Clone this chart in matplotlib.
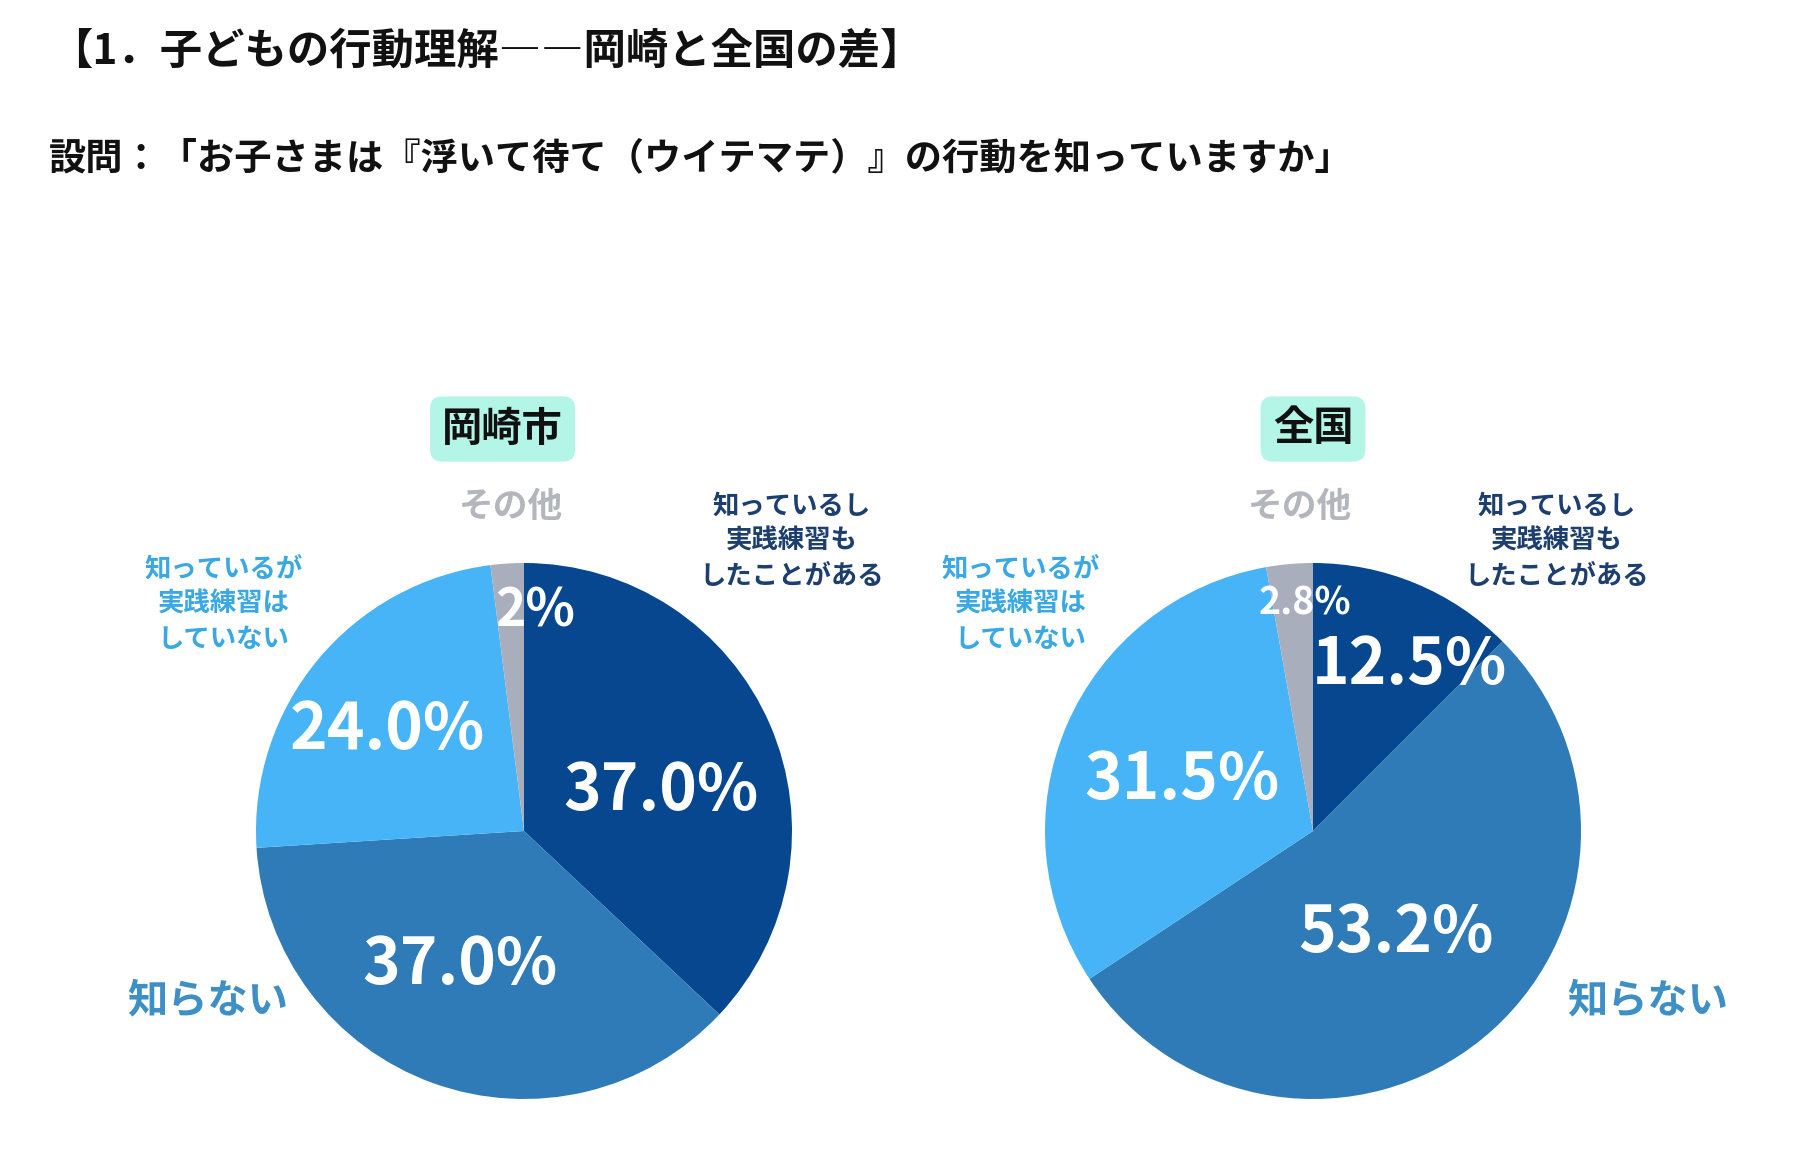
import numpy as np
import matplotlib
matplotlib.use("Agg")
import matplotlib.pyplot as plt

plt.rcParams['font.family'] = ['Noto Sans CJK JP', 'DejaVu Sans']

# data
categories = ["知っているし\n実践練習も\nしたことがある", "知らない",
              "知っているが\n実践練習は\nしていない", "その他"]
okazaki = [37.0, 37.0, 24.0, 2.0]
okazaki_labels = ["37.0%", "37.0%", "24.0%", "2%"]
zenkoku = [12.5, 53.2, 31.5, 2.8]
zenkoku_labels = ["12.5%", "53.2%", "31.5%", "2.8%"]
panel_titles = ["岡崎市", "全国"]

colors = ["#06478f", "#2f7bb8", "#46b4f6", "#a9aebd"]
label_colors = ["#1d3f70", "#3d8fc5", "#3aa8e3", "#b3b6bd"]

W, H = 1816, 1158
fig = plt.figure(figsize=(W / 100, H / 100), dpi=100)
ax = fig.add_axes([0, 0, 1, 1])

R = 268
centers = [(524, H - 831), (1313, H - 831)]

# percentage label positions (in radius units, relative to centre)
pct_pos = [
    [(0.51, 0.15), (-0.24, -0.50), (-0.51, 0.375), (0.04, 0.82)],
    [(0.36, 0.62), (0.31, -0.38), (-0.49, 0.19), (-0.03, 0.85)],
]
pct_size = [[46, 46, 46, 37], [46, 46, 46, 27]]
cat_pos = [
    [(1.00, 1.08), (-1.18, -0.635), (-1.12, 0.845), (-0.05, 1.21)],
    [(0.91, 1.08), (1.25, -0.635), (-1.09, 0.845), (-0.05, 1.21)],
]
cat_size = [19, 29, 19, 25]
box_pos = [(-0.08, 1.50), (0.0, 1.50)]

for i, (vals, labs) in enumerate([(okazaki, okazaki_labels), (zenkoku, zenkoku_labels)]):
    cx, cy = centers[i]
    ax.pie(vals, colors=colors, startangle=90, counterclock=False,
           center=(cx, cy), radius=R, wedgeprops=dict(linewidth=0))
    for j, lab in enumerate(labs):
        dx, dy = pct_pos[i][j]
        ax.text(cx + dx * R, cy + dy * R, lab, color="white", fontsize=pct_size[i][j],
                fontweight="bold", ha="center", va="center")
    for j, cat in enumerate(categories):
        dx, dy = cat_pos[i][j]
        ax.text(cx + dx * R, cy + dy * R, cat, color=label_colors[j], fontsize=cat_size[j],
                fontweight="bold", ha="center", va="center", linespacing=1.38)
    bx, by = box_pos[i]
    ax.text(cx + bx * R, cy + by * R, panel_titles[i], color="#111111", fontsize=29,
            fontweight="bold", ha="center", va="center",
            bbox=dict(boxstyle="round,pad=0.3,rounding_size=0.3", fc="#b3f5e6", ec="none"))

ax.set_xlim(0, W)
ax.set_ylim(0, H)
ax.set_aspect("equal")
ax.axis("off")

fig.text(50 / W, 1 - 52 / H, "【1．子どもの行動理解――岡崎と全国の差】", fontsize=30.5,
         fontweight="bold", ha="left", va="center", color="#111111")
fig.text(49 / W, 1 - 159 / H, "設問：「お子さまは『浮いて待て（ウイテマテ）』の行動を知っていますか」",
         fontsize=26.8, fontweight="bold", ha="left", va="center", color="#111111")

fig.savefig("out.png", dpi=100, facecolor="white")
